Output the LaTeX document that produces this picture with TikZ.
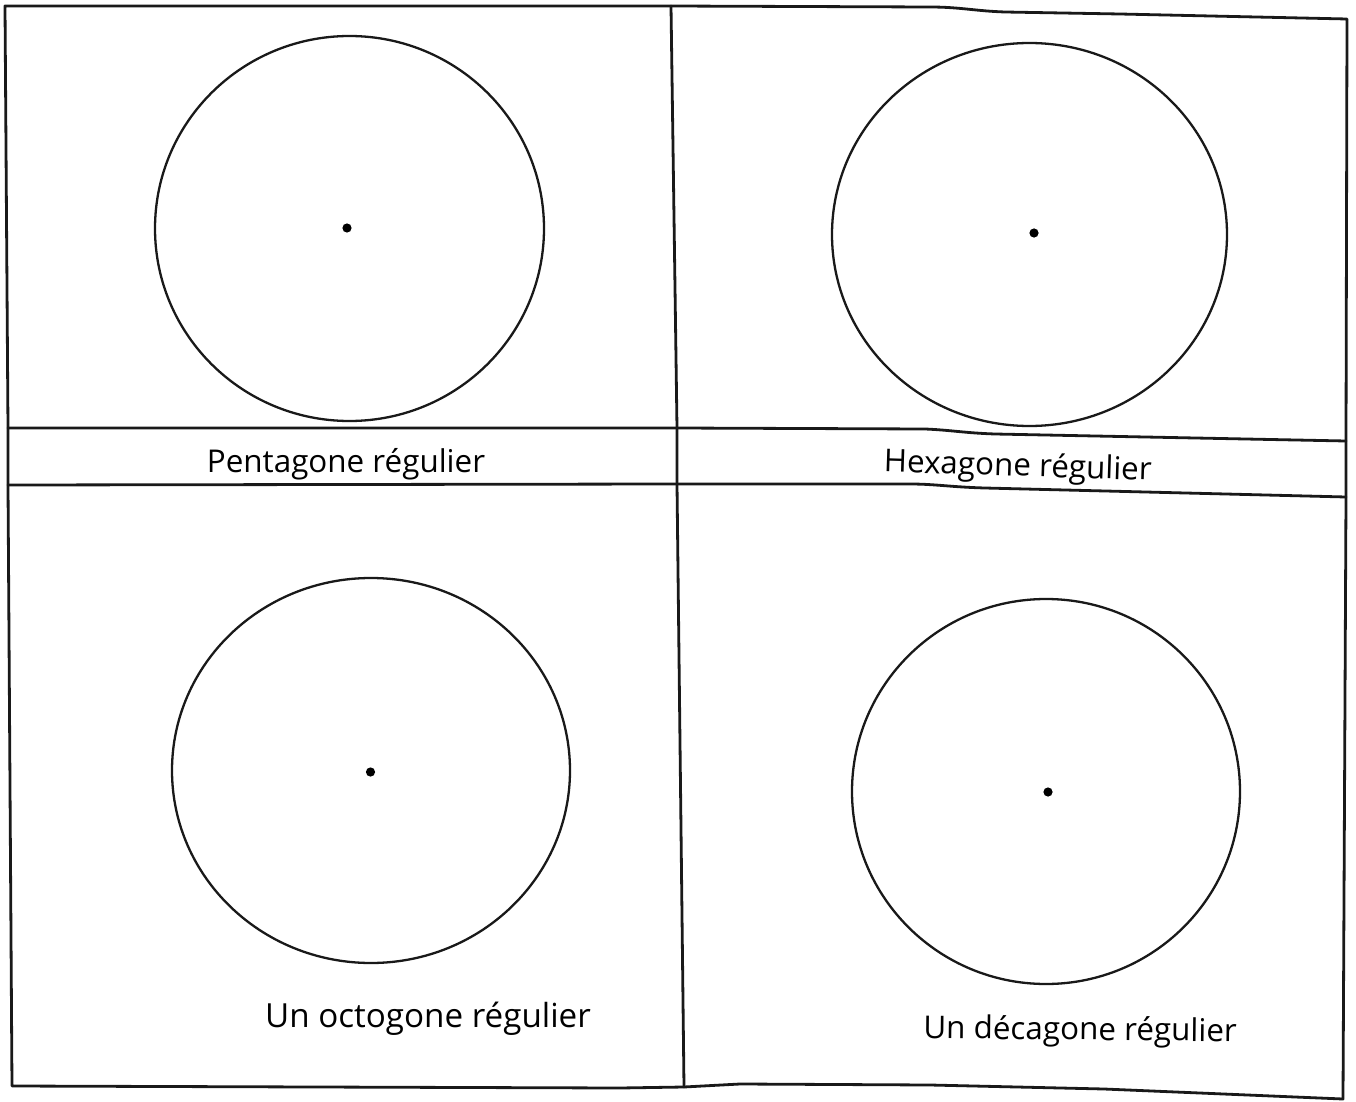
\documentclass[tikz,border=0pt]{standalone}
\usepackage{fontspec}
\setmainfont{Open Sans}
\usetikzlibrary{shapes.geometric}
\begin{document}
\begin{tikzpicture}[x=0.5pt,y=-0.5pt,
  frame/.style={line width=1.4pt, draw=black!90, line join=round, line cap=round},
  disc/.style={ellipse, draw=black!90, line width=1.15pt, inner sep=0pt, outer sep=0pt},
  centre/.style={circle, fill=black, inner sep=0pt, minimum size=4.6pt},
  lab/.style={font=\fontsize{15.7}{18}\selectfont, anchor=base, inner sep=0pt, text=black}]
\useasboundingbox (0,0) rectangle (1356,1102);
% grid corners
\coordinate (tl) at (5,6);
\coordinate (tm) at (671,6);
\coordinate (tr) at (1347,19);
\coordinate (br) at (1343,1099);
\coordinate (bm) at (684,1087);
\coordinate (bl) at (12,1086);
\coordinate (l1) at (8,428);
\coordinate (l2) at (8,485);
\coordinate (m1) at (677,428);
\coordinate (m2) at (677,484);
\coordinate (r1) at (1346,441);
\coordinate (r2) at (1346,497);
% outer frame
\draw[frame] (tl) -- (tm) -- (930,7) .. controls (960,7) and (975,11) .. (1005,12) -- (1120,14) -- (tr)
  -- (r1) -- (r2) -- (br) -- (1104,1089) -- (930,1085) -- (740,1084) -- (bm)
  -- (620,1088) -- (bl) -- (l2) -- (l1) -- cycle;
% label band lines
\draw[frame] (l1) -- (m1) -- (925,429) .. controls (950,430) and (965,433) .. (995,434) -- (r1);
\draw[frame] (l2) -- (m2) -- (910,484) .. controls (935,484) and (950,487) .. (985,488) -- (r2);
% middle vertical
\draw[frame] (tm) -- (m1) -- (m2) -- (bm);
% circles
\node[disc, minimum width=194.5pt, minimum height=192.5pt] (c1) at (349.5,228.5) {};
\node[disc, minimum width=197.5pt, minimum height=191.5pt] (c2) at (1029.5,234.5) {};
\node[disc, minimum width=199pt, minimum height=192.5pt] (c3) at (371,770.5) {};
\node[disc, minimum width=194pt, minimum height=192.5pt] (c4) at (1046,791.5) {};
% centres
\node[centre] (o1) at (347,228) {};
\node[centre] (o2) at (1034,233) {};
\node[centre] (o3) at (370.5,772) {};
\node[centre] (o4) at (1048,792) {};
% labels
\node[lab] (t1) at (346,472) {Pentagone régulier};
\node[lab, rotate=-1.8] (t2) at (1017.5,476) {Hexagone régulier};
\node[lab, font=\fontsize{16.6}{19}\selectfont] (t3) at (428,1027) {Un octogone régulier};
\node[lab, rotate=-0.6] (t4) at (1080,1040) {Un décagone régulier};
\end{tikzpicture}
\end{document}
